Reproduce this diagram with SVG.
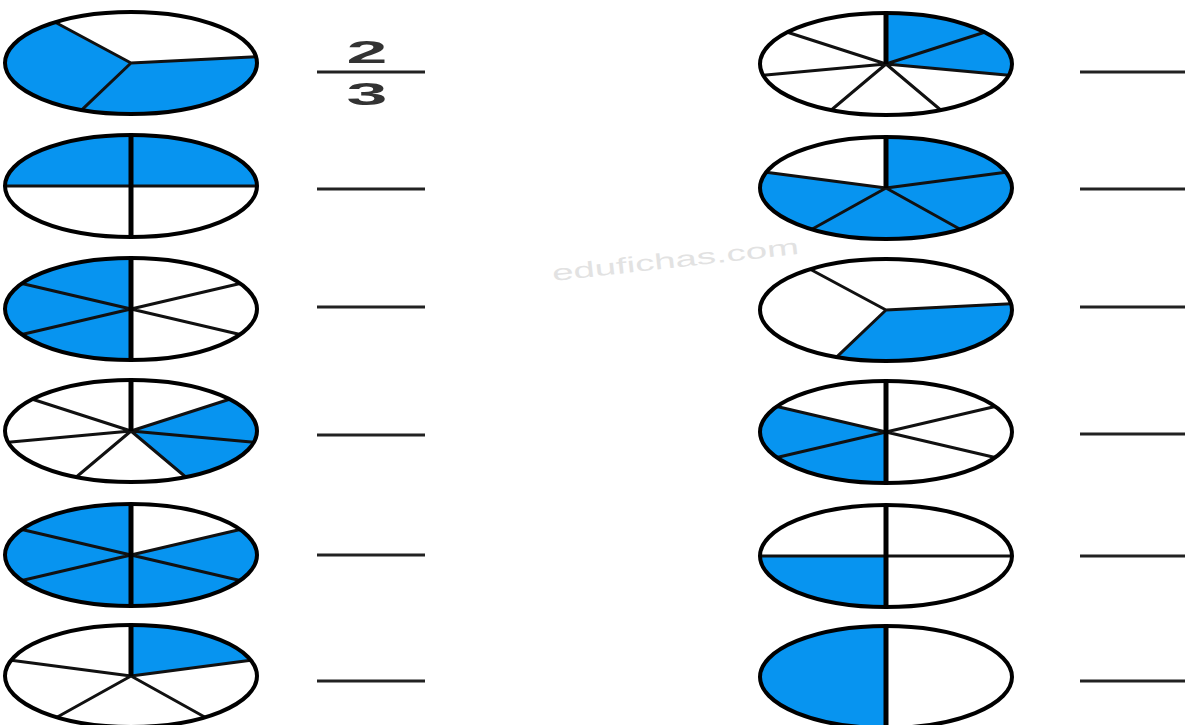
<svg xmlns="http://www.w3.org/2000/svg" width="1185" height="725" viewBox="0 0 1185 725">
<style>
.bg{fill:#ffffff}
.face{fill:#ffffff}
.sh{fill:#0794f0;stroke:none}
.rad{stroke:#111;stroke-width:3;fill:none;stroke-linecap:round}
.main{stroke:#000;stroke-width:5;fill:none}
.rim{fill:none;stroke:#000;stroke-width:4}
.blank{stroke:#222;stroke-width:3}
.num{font-family:"Liberation Sans",Arial,sans-serif;font-weight:bold;font-size:32px;fill:#333;text-anchor:middle}
.wm{font-family:"Liberation Sans",Arial,sans-serif;font-size:22px;fill:#e2e2e2}
</style>
<defs>
<ellipse id="face" cx="0" cy="0" rx="126" ry="51"/>
</defs>
<rect class="bg" x="0" y="0" width="1185" height="725"/>
<text class="wm" x="553" y="281" textLength="248" lengthAdjust="spacingAndGlyphs" transform="rotate(-6.3 553 281)">edufichas.com</text>

<!-- Left column -->
<g id="pie-l1" transform="translate(131,63)">
<use href="#face" class="face"/>
<path class="sh" d="M0,0 L125.1,-6.2 A126 51 0 1 1 -75.8,-40.7 Z"/>
<path class="rad" d="M0,0 L125.1,-6.2 M0,0 L-49.2,46.9 M0,0 L-75.8,-40.7"/>
<use href="#face" class="rim"/>
</g>
<g id="pie-l2" transform="translate(131,186)">
<use href="#face" class="face"/>
<path class="sh" d="M-126,0 A126 51 0 0 1 126,0 Z"/>
<path class="rad" d="M-126,0 L126,0"/>
<path class="main" d="M0,-51 L0,51"/>
<use href="#face" class="rim"/>
</g>
<g id="pie-l3" transform="translate(131,309)">
<use href="#face" class="face"/>
<path class="sh" d="M0,-51 A126 51 0 0 0 0,51 Z"/>
<path class="rad" d="M-109.1,-25.5 L109.1,25.5 M-109.1,25.5 L109.1,-25.5"/>
<path class="main" d="M0,-51 L0,51"/>
<use href="#face" class="rim"/>
</g>
<g id="pie-l4" transform="translate(131,431)">
<use href="#face" class="face"/>
<path class="sh" d="M0,0 L98.5,-31.8 A126 51 0 0 1 54.7,46 Z"/>
<path class="rad" d="M0,0 L98.5,-31.8 M0,0 L122.8,11.3 M0,0 L54.7,46 M0,0 L-54.7,46 M0,0 L-122.8,11.3 M0,0 L-98.5,-31.8"/>
<path class="main" d="M0,-51 L0,0"/>
<use href="#face" class="rim"/>
</g>
<g id="pie-l5" transform="translate(131,555)">
<use href="#face" class="face"/>
<path class="sh" d="M0,0 L109.1,-25.5 A126 51 0 1 1 0,-51 Z"/>
<path class="rad" d="M-109.1,-25.5 L109.1,25.5 M-109.1,25.5 L109.1,-25.5"/>
<path class="main" d="M0,-51 L0,51"/>
<use href="#face" class="rim"/>
</g>
<g id="pie-l6" transform="translate(131,676)">
<use href="#face" class="face"/>
<path class="sh" d="M0,0 L0,-51 A126 51 0 0 1 119.8,-15.8 Z"/>
<path class="rad" d="M0,0 L119.8,-15.8 M0,0 L74.1,41.3 M0,0 L-74.1,41.3 M0,0 L-119.8,-15.8"/>
<path class="main" d="M0,-51 L0,0"/>
<use href="#face" class="rim"/>
</g>

<!-- Right column -->
<g id="pie-r1" transform="translate(886,64)">
<use href="#face" class="face"/>
<path class="sh" d="M0,0 L0,-51 A126 51 0 0 1 122.8,11.3 Z"/>
<path class="rad" d="M0,0 L98.5,-31.8 M0,0 L122.8,11.3 M0,0 L54.7,46 M0,0 L-54.7,46 M0,0 L-122.8,11.3 M0,0 L-98.5,-31.8"/>
<path class="main" d="M0,-51 L0,0"/>
<use href="#face" class="rim"/>
</g>
<g id="pie-r2" transform="translate(886,188)">
<use href="#face" class="face"/>
<path class="sh" d="M0,0 L0,-51 A126 51 0 1 1 -119.8,-15.8 Z"/>
<path class="rad" d="M0,0 L119.8,-15.8 M0,0 L74.1,41.3 M0,0 L-74.1,41.3 M0,0 L-119.8,-15.8"/>
<path class="main" d="M0,-51 L0,0"/>
<use href="#face" class="rim"/>
</g>
<g id="pie-r3" transform="translate(886,310)">
<use href="#face" class="face"/>
<path class="sh" d="M0,0 L125.1,-6.2 A126 51 0 0 1 -49.2,46.9 Z"/>
<path class="rad" d="M0,0 L125.1,-6.2 M0,0 L-49.2,46.9 M0,0 L-75.8,-40.7"/>
<use href="#face" class="rim"/>
</g>
<g id="pie-r4" transform="translate(886,432)">
<use href="#face" class="face"/>
<path class="sh" d="M0,0 L0,51 A126 51 0 0 1 -109.1,-25.5 Z"/>
<path class="rad" d="M-109.1,-25.5 L109.1,25.5 M-109.1,25.5 L109.1,-25.5"/>
<path class="main" d="M0,-51 L0,51"/>
<use href="#face" class="rim"/>
</g>
<g id="pie-r5" transform="translate(886,556)">
<use href="#face" class="face"/>
<path class="sh" d="M0,0 L0,51 A126 51 0 0 1 -126,0 Z"/>
<path class="rad" d="M-126,0 L126,0"/>
<path class="main" d="M0,-51 L0,51"/>
<use href="#face" class="rim"/>
</g>
<g id="pie-r6" transform="translate(886,677)">
<use href="#face" class="face"/>
<path class="sh" d="M0,-51 A126 51 0 0 0 0,51 Z"/>
<path class="main" d="M0,-51 L0,51"/>
<use href="#face" class="rim"/>
</g>

<!-- Answer lines and fraction -->
<g id="answers">
<text class="num" transform="translate(367,63) scale(2.3,1)">2</text>
<text class="num" transform="translate(367,105) scale(2.3,1)">3</text>
<line class="blank" x1="317" y1="72" x2="425" y2="72"/>
<line class="blank" x1="317" y1="189" x2="425" y2="189"/>
<line class="blank" x1="317" y1="307" x2="425" y2="307"/>
<line class="blank" x1="317" y1="435" x2="425" y2="435"/>
<line class="blank" x1="317" y1="555" x2="425" y2="555"/>
<line class="blank" x1="317" y1="681" x2="425" y2="681"/>
<line class="blank" x1="1080" y1="72" x2="1185" y2="72"/>
<line class="blank" x1="1080" y1="189" x2="1185" y2="189"/>
<line class="blank" x1="1080" y1="307" x2="1185" y2="307"/>
<line class="blank" x1="1080" y1="434" x2="1185" y2="434"/>
<line class="blank" x1="1080" y1="556" x2="1185" y2="556"/>
<line class="blank" x1="1080" y1="681" x2="1185" y2="681"/>
</g>
</svg>
